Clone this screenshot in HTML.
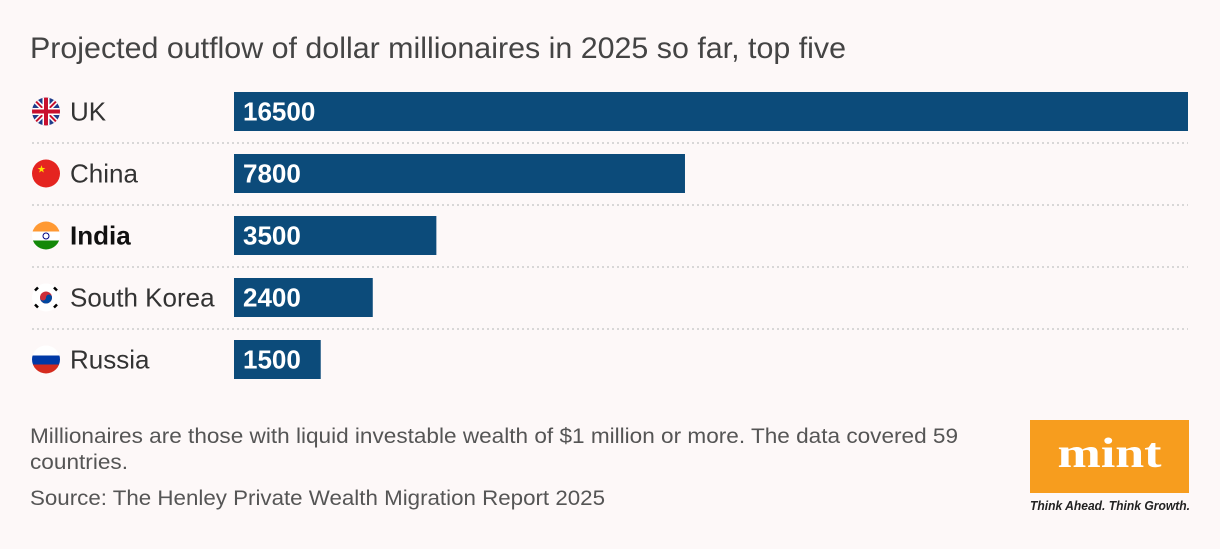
<!DOCTYPE html>
<html><head><meta charset="utf-8"><style>
body{margin:0;background:#fdf8f8;width:1220px;height:544px;overflow:hidden;font-family:"Liberation Sans",sans-serif}
</style></head><body>
<svg width="1220" height="544" xmlns="http://www.w3.org/2000/svg">
<rect width="1220" height="544" fill="#fdf8f8"/>
<text x="30" y="58" font-size="30" fill="#444" font-family="Liberation Sans" textLength="816" lengthAdjust="spacingAndGlyphs">Projected outflow of dollar millionaires in 2025 so far, top five</text>
<g id="rows"></g>
<text x="30" y="443" font-size="21" fill="#555" textLength="928" lengthAdjust="spacingAndGlyphs">Millionaires are those with liquid investable wealth of $1 million or more. The data covered 59</text>
<text x="30" y="469" font-size="21" fill="#555" textLength="98" lengthAdjust="spacingAndGlyphs">countries.</text>
<text x="30" y="505" font-size="21" fill="#555" textLength="575" lengthAdjust="spacingAndGlyphs">Source: The Henley Private Wealth Migration Report 2025</text>
<g>
<rect x="1030" y="420" width="159" height="73" fill="#f79d1e"/>
<text x="1109.5" y="467" font-size="42" font-weight="bold" fill="#fff" text-anchor="middle" font-family="Liberation Serif" textLength="104" lengthAdjust="spacingAndGlyphs">mint</text>
<text x="1030" y="510" font-size="12.5" font-style="italic" font-weight="bold" fill="#222" textLength="160" lengthAdjust="spacingAndGlyphs">Think Ahead. Think Growth.</text>
</g>
</svg>
<script>
const categories=["UK","China","India","South Korea","Russia"];
const values=[16500,7800,3500,2400,1500];
const x0=234,scale=954/16500,top0=92,step=62,bh=39;
const NS="http://www.w3.org/2000/svg";
const g=document.getElementById('rows');
function mk(t,a){const e=document.createElementNS(NS,t);for(const k in a)e.setAttribute(k,a[k]);return e;}
const flags=[
 `<clipPath id="c0"><circle cx="46" cy="0" r="14"/></clipPath><g clip-path="url(#c0)"><rect x="32" y="-14" width="28" height="28" fill="#1f3b8a"/><path d="M32 -14L60 14M60 -14L32 14" stroke="#fff" stroke-width="5"/><path d="M32 -14L60 14M60 -14L32 14" stroke="#c8102e" stroke-width="2"/><path d="M46 -14V14M32 0H60" stroke="#fff" stroke-width="7"/><path d="M46 -14V14M32 0H60" stroke="#c8102e" stroke-width="4"/></g>`,
 `<circle cx="46" cy="0" r="14" fill="#e52420"/><text x="37" y="-1" font-size="10" fill="#ffde00">★</text>`,
 `<clipPath id="c2"><circle cx="46" cy="0" r="14"/></clipPath><g clip-path="url(#c2)"><rect x="32" y="-14" width="28" height="10" fill="#ff9933"/><rect x="32" y="-4" width="28" height="9" fill="#fff"/><rect x="32" y="5" width="28" height="9" fill="#138808"/><circle cx="46" cy="0.5" r="3" fill="none" stroke="#000080" stroke-width="1"/></g>`,
 `<circle cx="46" cy="0" r="14" fill="#fff"/><circle cx="46" cy="0" r="6" fill="#cd2e3a"/><path d="M40 0a6 6 0 0 0 12 0a3 3 0 0 0 -6 0a3 3 0 0 1 -6 0z" fill="#0047a0"/><path d="M35 -7l3 -3M54 -10l3 3M35 7l3 3M54 10l3 -3" stroke="#000" stroke-width="2.5"/>`,
 `<clipPath id="c4"><circle cx="46" cy="0" r="14"/></clipPath><g clip-path="url(#c4)"><rect x="32" y="-14" width="28" height="10" fill="#fff"/><rect x="32" y="-4" width="28" height="9" fill="#0039a6"/><rect x="32" y="5" width="28" height="9" fill="#d52b1e"/></g>`
];
categories.forEach((c,i)=>{
 const y=top0+i*step, cy=y+bh/2;
 const f=mk('g',{transform:`translate(0,${cy})`});
 
 
 f.innerHTML=flags[i];g.appendChild(f);
 const t=mk('text',{x:70,y:cy+9,'font-size':26,fill:i==2?'#111':'#333','font-weight':i==2?'bold':'normal'});
 t.textContent=c;
 
 
 g.appendChild(t);
 const r=mk('rect',{x:x0,y:y,width:values[i]*scale,height:bh,fill:'#0c4b7a'});
 
 
 g.appendChild(r);
 const v=mk('text',{x:x0+9,y:cy+9,'font-size':26,'font-weight':'bold',fill:'#fff'});
 v.textContent=values[i];
 
 
 g.appendChild(v);
 if(i<categories.length-1){
  const l=mk('line',{x1:32,x2:1188,y1:y+bh+12,y2:y+bh+12,stroke:'#ccc','stroke-width':1.5,'stroke-dasharray':'2 3'});
  
  
  g.appendChild(l);
 }
});
</script>
</body></html>
